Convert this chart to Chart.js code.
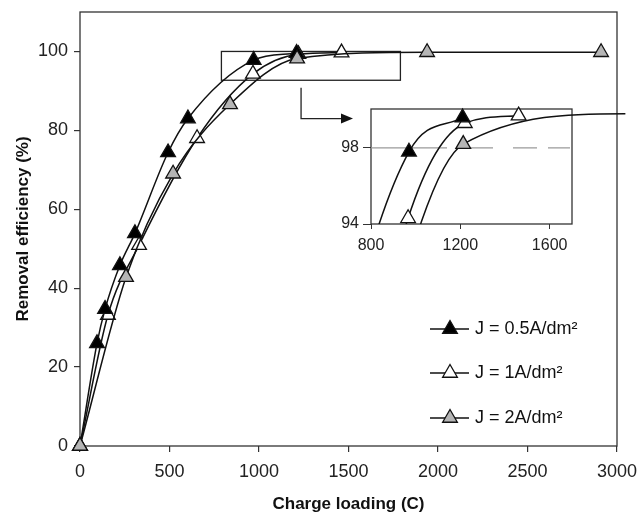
<!DOCTYPE html>
<html>
<head>
<meta charset="utf-8">
<script src="https://cdn.jsdelivr.net/npm/chart.js@4.4.0/dist/chart.umd.min.js"></script>
<style>
    body { margin: 0; background: #fff; }
    #wrap { position: relative; width: 639px; height: 517px; }
    #mainChart { position: absolute; left: 0; top: 0; }
    #insetChart { position: absolute; left: 330px; top: 95px; }
</style>
</head>
<body>
<div id="wrap">
    <canvas id="mainChart" width="639" height="517"></canvas>
    <canvas id="insetChart" width="309" height="160"></canvas>
</div>
<script>
// Removal efficiency (%) vs charge loading (C) for three current densities
const seriesLabels = ['J = 0.5A/dm²', 'J = 1A/dm²', 'J = 2A/dm²'];
const chargeLow = [0, 95, 140, 223, 307, 492, 603, 970, 1210];
const effLow = [0, 26, 34.7, 45.8, 53.9, 74.4, 83, 97.8, 99.6];
const chargeMid = [0, 156, 330, 654, 966, 1220, 1461];
const effMid = [0, 33.2, 50.9, 78, 94.3, 99.3, 99.7];
const chargeHigh = [0, 257, 520, 838, 1213, 1939, 2911];
const effHigh = [0, 42.8, 69, 86.6, 98.2, 99.8, 99.8];

const xTicks = [0, 500, 1000, 1500, 2000, 2500, 3000];
const yTicks = [0, 20, 40, 60, 80, 100];
const insetXTicks = [800, 1200, 1600];
const insetYTicks = [94, 98];
const refLevel = 98;

// zoom box and arrow, in data units of the main chart
const zoomBox = { x0: 790, x1: 1790, y0: 92.7, y1: 100 };
const zoomArrow = { x: 1235, yStart: 90.8, yEnd: 83, xEnd: 1525 };

const FONT = "'Liberation Sans', Arial, sans-serif";
const fills = ['#000000', '#ffffff', '#b5b5b5'];
const toPoints = (xs, ys) => xs.map((x, i) => ({ x: x, y: ys[i] }));
const seriesData = [
    toPoints(chargeLow, effLow),
    toPoints(chargeMid, effMid),
    toPoints(chargeHigh, effHigh)
];

function makeDataset(i, extra) {
    return Object.assign({
        label: seriesLabels[i],
        data: seriesData[i],
        borderColor: '#111',
        borderWidth: 1.5,
        backgroundColor: fills[i],
        pointStyle: 'triangle',
        pointRadius: 8.5,
        pointBackgroundColor: fills[i],
        pointBorderColor: '#111',
        pointBorderWidth: 1.3,
        cubicInterpolationMode: 'monotone',
        fill: false,
        order: i === 2 ? 0 : i + 1
    }, extra || {});
}

// fixed axis sizes, no extra label padding
const fixSize = (w, h) => s => {
    if (w !== null) s.width = w;
    if (h !== null) s.height = h;
    s.paddingTop = 0;
    s.paddingBottom = 0;
    s.paddingLeft = 0;
    s.paddingRight = 0;
};
const plainTick = v => String(v);

const frame = {
    id: 'frame',
    beforeDatasetsDraw(chart) {
        const a = chart.chartArea;
        const ctx = chart.ctx;
        ctx.save();
        ctx.strokeStyle = '#333';
        ctx.lineWidth = 1.3;
        ctx.strokeRect(a.left, a.top, a.right - a.left, a.bottom - a.top);
        ctx.restore();
    }
};

const zoomMarks = {
    id: 'zoomMarks',
    beforeDatasetsDraw(chart) {
        const xs = chart.scales.x, ys = chart.scales.y;
        const ctx = chart.ctx;
        ctx.save();
        ctx.strokeStyle = '#222';
        ctx.lineWidth = 1.3;
        const bx0 = xs.getPixelForValue(zoomBox.x0), bx1 = xs.getPixelForValue(zoomBox.x1);
        const by0 = ys.getPixelForValue(zoomBox.y0), by1 = ys.getPixelForValue(zoomBox.y1);
        ctx.strokeRect(bx0, by1, bx1 - bx0, by0 - by1);

        const ax = xs.getPixelForValue(zoomArrow.x);
        const ay0 = ys.getPixelForValue(zoomArrow.yStart);
        const ay1 = ys.getPixelForValue(zoomArrow.yEnd);
        const axEnd = xs.getPixelForValue(zoomArrow.xEnd);
        ctx.beginPath();
        ctx.moveTo(ax, ay0);
        ctx.lineTo(ax, ay1);
        ctx.lineTo(axEnd - 10, ay1);
        ctx.stroke();
        ctx.fillStyle = '#111';
        ctx.beginPath();
        ctx.moveTo(axEnd, ay1);
        ctx.lineTo(axEnd - 12, ay1 - 5);
        ctx.lineTo(axEnd - 12, ay1 + 5);
        ctx.closePath();
        ctx.fill();
        ctx.restore();
    }
};

const triangleLegend = {
    id: 'triangleLegend',
    afterDatasetsDraw(chart) {
        const ctx = chart.ctx;
        const rows = [329, 373, 418];
        ctx.save();
        chart.data.datasets.forEach((ds, i) => {
            const y = rows[i];
            ctx.strokeStyle = '#111';
            ctx.lineWidth = 1.5;
            ctx.beginPath();
            ctx.moveTo(430, y);
            ctx.lineTo(469, y);
            ctx.stroke();
            ctx.fillStyle = ds.pointBackgroundColor;
            ctx.strokeStyle = '#111';
            ctx.lineWidth = 1.3;
            Chart.helpers.drawPoint(ctx, {
                pointStyle: 'triangle', rotation: 0, radius: 8.5, borderWidth: 1.3
            }, 450, y);
            ctx.fillStyle = '#111';
            ctx.font = '18px ' + FONT;
            ctx.textBaseline = 'middle';
            ctx.textAlign = 'left';
            ctx.fillText(ds.label, 475, y);
        });
        ctx.restore();
    }
};

const tickFont = { family: FONT, size: 18 };
const titleFont = { family: FONT, size: 17, weight: 'bold' };

new Chart(document.getElementById('mainChart'), {
    type: 'line',
    data: {
        datasets: [0, 1, 2].map(i => makeDataset(i, { clip: false }))
    },
    options: {
        responsive: false,
        animation: false,
        layout: { padding: { left: 0, top: 12, right: 22, bottom: 0 } },
        plugins: { legend: { display: false }, tooltip: { enabled: false } },
        scales: {
            x: {
                type: 'linear',
                min: 0,
                max: 3000,
                afterFit: fixSize(null, 71),
                afterBuildTicks: s => { s.ticks = xTicks.map(v => ({ value: v })); },
                grid: { drawOnChartArea: false, tickLength: 6, color: '#333', lineWidth: 1.2 },
                border: { display: false },
                ticks: { font: tickFont, color: '#222', padding: 9, maxRotation: 0, callback: plainTick },
                title: { display: true, text: 'Charge loading (C)', font: titleFont, color: '#111', padding: { top: 0, bottom: 2 } }
            },
            y: {
                min: 0,
                max: 110,
                afterFit: fixSize(80, null),
                afterBuildTicks: s => { s.ticks = yTicks.map(v => ({ value: v })); },
                grid: { drawOnChartArea: false, tickLength: 6, color: '#333', lineWidth: 1.2 },
                border: { display: false },
                ticks: { font: tickFont, color: '#222', padding: 6, callback: plainTick },
                title: { display: true, text: 'Removal efficiency (%)', font: titleFont, color: '#111', padding: { top: 13, bottom: 0 } }
            }
        }
    },
    plugins: [frame, zoomMarks, triangleLegend]
});

// Inset: zoom on the 800-1700 C region
const insetRadius = ctx => {
    const p = ctx.raw;
    if (!p || p.x < 800 || p.x > 1700 || p.y < 94) return 0;
    return 8.5;
};
const insetClip = { left: 0, top: 3, right: 66, bottom: 0 };
const insetSets = [0, 1, 2].map(i => makeDataset(i, { clip: insetClip, pointRadius: insetRadius }));
insetSets.push({
    label: 'ref',
    data: [{ x: insetXTicks[0], y: refLevel }, { x: 1700, y: refLevel }],
    borderColor: '#9a9a9a',
    borderWidth: 1.2,
    borderDash: [76, 21, 25, 20, 24, 11, 22],
    pointRadius: 0,
    order: 5
});

const insetTickFont = { family: FONT, size: 16 };

new Chart(document.getElementById('insetChart'), {
    type: 'line',
    data: { datasets: insetSets },
    options: {
        responsive: false,
        animation: false,
        layout: { padding: { left: 0, top: 14, right: 67, bottom: 0 } },
        plugins: { legend: { display: false }, tooltip: { enabled: false } },
        scales: {
            x: {
                type: 'linear',
                min: 800,
                max: 1700,
                afterFit: fixSize(null, 31),
                afterBuildTicks: s => { s.ticks = insetXTicks.map(v => ({ value: v })); },
                grid: { drawOnChartArea: false, tickLength: 5, color: '#333' },
                border: { display: false },
                ticks: { font: insetTickFont, color: '#222', padding: 7, maxRotation: 0, callback: plainTick }
            },
            y: {
                min: 94,
                max: 100.05,
                afterFit: fixSize(41, null),
                afterBuildTicks: s => { s.ticks = insetYTicks.map(v => ({ value: v })); },
                grid: { drawOnChartArea: false, tickLength: 8, color: '#333' },
                border: { display: false },
                ticks: { font: insetTickFont, color: '#222', padding: 4, callback: plainTick }
            }
        }
    },
    plugins: [frame]
});
</script>
</body>
</html>
